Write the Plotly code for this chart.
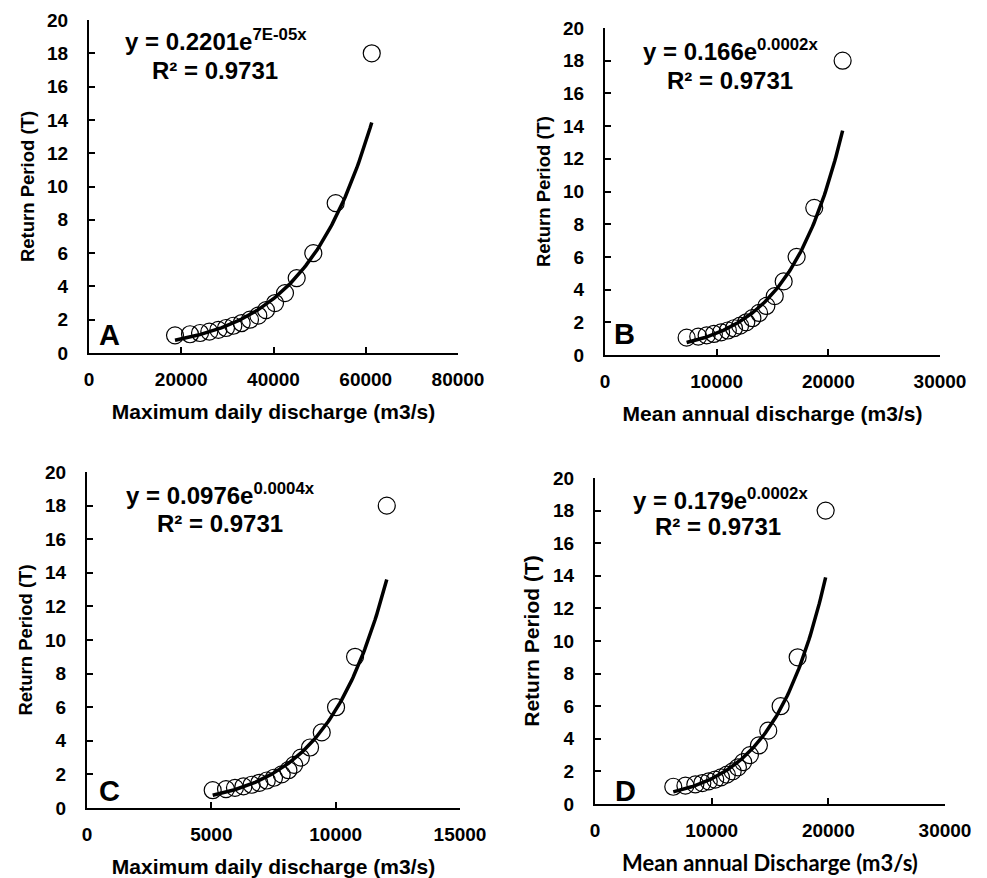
import numpy as np
import plotly.graph_objects as go

# Return periods (T = 18/m)
return_period = [18, 9, 6, 4.5, 3.6, 3, 2.571, 2.25, 2, 1.8, 1.636, 1.5, 1.385, 1.286, 1.2, 1.125, 1.059]

# Discharge values (m3/s)
max_daily_A = [61300, 53480, 48630, 45030, 42490, 40330, 38370, 36700, 34900, 33100, 31290, 29700, 28040, 26090, 24070, 21900, 18650]
mean_annual_B = [21280, 18740, 17160, 16000, 15200, 14450, 13800, 13200, 12650, 12100, 11550, 11000, 10400, 9750, 9100, 8350, 7310]
max_daily_C = [12055, 10780, 10016, 9440, 8970, 8600, 8330, 8100, 7830, 7520, 7230, 6930, 6620, 6290, 5950, 5590, 5055]
mean_annual_D = [19770, 17370, 15910, 14850, 14050, 13280, 12700, 12250, 11800, 11300, 10800, 10300, 9750, 9200, 8600, 7750, 6710]

panel_letters = ["A", "B", "C", "D"]
x_titles = ["Maximum daily discharge (m3/s)", "Mean annual discharge (m3/s)",
            "Maximum daily discharge (m3/s)", "Mean annual Discharge (m3/s)"]
equations = ["y = 0.2201e<sup>7E-05x</sup>", "y = 0.166e<sup>0.0002x</sup>",
             "y = 0.0976e<sup>0.0004x</sup>", "y = 0.179e<sup>0.0002x</sup>"]
r2_texts = ["R² = 0.9731"] * 4
x_ranges = [[0, 80000], [0, 30000], [0, 15000], [0, 30000]]
x_dticks = [20000, 10000, 5000, 10000]
y_ticks = [0, 2, 4, 6, 8, 10, 12, 14, 16, 18, 20]

W, H = 987, 878
# pixel boxes of each plot area: (x_left, x_right, y_top, y_bottom)
boxes = [(89, 458, 20, 353), (605, 940, 28, 355), (87, 460, 472, 808), (595, 945, 478, 804)]
eq_pos = [((216, 40), (215, 70)), ((730, 50), (730, 80)), ((220, 494), (220, 523)), ((720, 499), (718, 526))]
letter_pos = [(109, 335), (624, 334), (109, 791), (625, 791)]

series_x = [max_daily_A, mean_annual_B, max_daily_C, mean_annual_D]

FONT = "Liberation Sans, Arial, sans-serif"
fig = go.Figure()

for i in range(4):
    xs = np.array(series_x[i], dtype=float)
    ys = np.array(return_period, dtype=float)
    b, ln_a = np.polyfit(xs, np.log(ys), 1)
    xf = np.linspace(xs.min(), xs.max(), 120)
    yf = np.exp(ln_a) * np.exp(b * xf)
    xa = "x" if i == 0 else f"x{i+1}"
    ya = "y" if i == 0 else f"y{i+1}"
    fig.add_trace(go.Scatter(x=xs, y=ys, mode="markers", xaxis=xa, yaxis=ya,
                             marker=dict(symbol="circle-open", size=17, color="black", line=dict(width=1.2)),
                             showlegend=False))
    fig.add_trace(go.Scatter(x=xf, y=yf, mode="lines", xaxis=xa, yaxis=ya,
                             line=dict(color="black", width=3.5), showlegend=False))

    xl, xr, yt, yb = boxes[i]
    key = "" if i == 0 else str(i + 1)
    title_font_x = dict(family=FONT, size=21, color="black", weight="bold")
    title_font_y = dict(family=FONT, size=18.5, color="black", weight="bold")
    if i == 3:
        title_font_x = dict(family="Lato, sans-serif", size=22, color="black", weight="bold")
        title_font_y = dict(family=FONT, size=21, color="black", weight="bold")
    fig.update_layout(**{
        f"xaxis{key}": dict(domain=[xl / W, xr / W], range=x_ranges[i], dtick=x_dticks[i], tick0=0,
                            tickformat="d", automargin=False,
                            anchor=ya, showline=True, linecolor="black", linewidth=2,
                            ticks="inside", ticklen=6, tickwidth=1.5, tickcolor="black",
                            showgrid=False, zeroline=False,
                            tickfont=dict(family=FONT, size=19, color="black", weight="bold"),
                            ticklabelstandoff=8,
                            title=dict(text=x_titles[i], font=title_font_x, standoff=16)),
        f"yaxis{key}": dict(domain=[1 - yb / H, 1 - yt / H], range=[0, 20], tickvals=y_ticks,
                            automargin=False,
                            anchor=xa, showline=True, linecolor="black", linewidth=2,
                            ticks="inside", ticklen=6, tickwidth=1.5, tickcolor="black",
                            showgrid=False, zeroline=False,
                            tickfont=dict(family=FONT, size=19, color="black", weight="bold"),
                            ticklabelstandoff=15,
                            title=dict(text="Return Period (T)", font=title_font_y, standoff=8)),
    })
    (ex, ey), (rx, ry) = eq_pos[i]
    fig.add_annotation(x=ex / W, y=1 - ey / H, xref="paper", yref="paper", text=equations[i],
                       showarrow=False, xanchor="center", yanchor="middle",
                       font=dict(family=FONT, size=24, color="black", weight="bold"))
    fig.add_annotation(x=rx / W, y=1 - ry / H, xref="paper", yref="paper", text=r2_texts[i],
                       showarrow=False, xanchor="center", yanchor="middle",
                       font=dict(family=FONT, size=24, color="black", weight="bold"))
    lx, ly = letter_pos[i]
    fig.add_annotation(x=lx / W, y=1 - ly / H, xref="paper", yref="paper", text=panel_letters[i],
                       showarrow=False, xanchor="center", yanchor="middle",
                       font=dict(family=FONT, size=29, color="black", weight="bold"))

fig.update_layout(width=W, height=H, margin=dict(l=0, r=0, t=0, b=0),
                  paper_bgcolor="white", plot_bgcolor="white")
fig.write_html("out.html", config={"displayModeBar": False},
               post_script="document.body.style.margin='0';")
